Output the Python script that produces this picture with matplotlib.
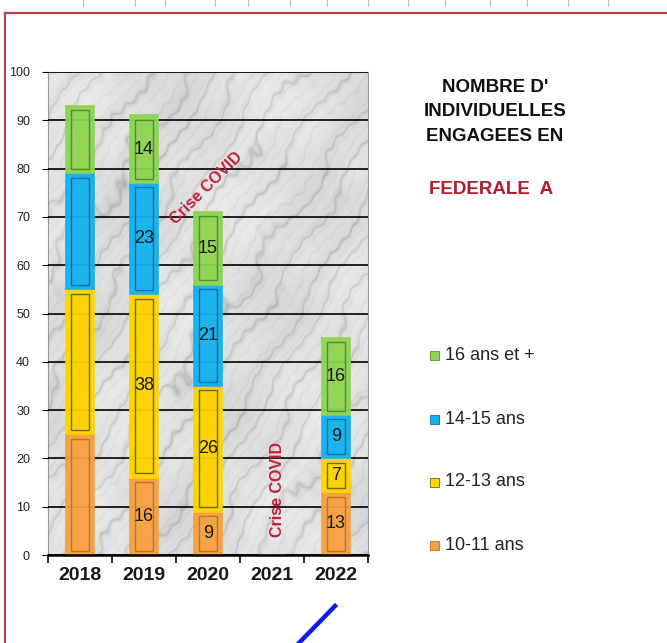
import numpy as np
import matplotlib
matplotlib.use("Agg")
import matplotlib.pyplot as plt
from matplotlib.patches import Rectangle
from matplotlib.lines import Line2D

plt.rcParams["font.family"] = ["Liberation Sans", "DejaVu Sans"]

years = ["2018", "2019", "2020", "2021", "2022"]
age_10_11 = [25, 16, 9, 0, 13]
age_12_13 = [30, 38, 26, 0, 7]
age_14_15 = [24, 23, 21, 0, 9]
age_16_plus = [14, 14, 15, 0, 16]
show_labels = [False, True, True, False, True]
series_names = ["10-11 ans", "12-13 ans", "14-15 ans", "16 ans et +"]
yticks = list(range(0, 101, 10))

colors = ["#F5A040", "#FFD400", "#12B2EE", "#8ED452"]
inner_edges = ["#C8701E", "#7A6600", "#0A6FA8", "#4F8F25"]

fig = plt.figure(figsize=(6.67, 6.43), dpi=100)
fig.patch.set_facecolor("white")

def px(x, y):
    return x / 667.0, 1 - y / 643.0

ax = fig.add_axes([48/667, 1-555/643, 320/667, 483/643])

# marble background texture (procedural, decorative)
H, W = 420, 340
yy, xx = np.mgrid[0:H, 0:W] / 100.0
turb = (0.6*np.sin(3.1*xx + 1.7*yy) + 0.4*np.sin(5.3*yy - 2.9*xx + 1.0)
        + 0.25*np.sin(9.7*xx + 7.1*yy + 2.0) + 0.15*np.sin(17.3*yy + 13.1*xx + 0.5)
        + 0.1*np.sin(31.0*xx - 23.0*yy + 1.3))
phase = 7.0*(xx*1.3 + yy) + 1.6*turb
veins = np.exp(-7*np.abs(np.sin(phase)))
phase2 = 19.0*(xx*1.2 + yy) + 2.5*turb
veins2 = np.exp(-10*np.abs(np.sin(phase2)))
tex = 0.88 + 0.03*turb - 0.14*veins - 0.07*veins2
tex = np.clip(tex, 0, 1)
ax.imshow(tex, extent=(-0.5, 4.5, 0, 100), aspect="auto", cmap="gray",
          vmin=0, vmax=1, zorder=0, interpolation="bilinear")

x = np.arange(len(years))
w = 0.44
iw = 0.27
bottom = np.zeros(len(years))
series = [age_10_11, age_12_13, age_14_15, age_16_plus]
for vals, c, ec in zip(series, colors, inner_edges):
    vals = np.array(vals, dtype=float)
    ax.bar(x, vals, w, bottom=bottom, color=c, edgecolor=c, linewidth=1.2,
           alpha=0.95, zorder=3)
    for i, v in enumerate(vals):
        if v > 0:
            ax.add_patch(Rectangle((x[i] - iw/2, bottom[i] + 0.9), iw, v - 1.8,
                                   fill=False, edgecolor=ec, linewidth=1.0,
                                   zorder=4))
            if show_labels[i]:
                ax.text(x[i], bottom[i] + v/2, f"{int(v)}", ha="center",
                        va="center", fontsize=13, color="#1a1a1a", zorder=5)
    bottom = bottom + vals

ax.set_xlim(-0.5, 4.5)
ax.set_ylim(0, 100)
ax.set_yticks(yticks)
ax.set_yticklabels([str(t) for t in yticks], fontsize=9, color="#222222")
ax.yaxis.grid(True, color="black", linewidth=1.2, zorder=1)
ax.set_axisbelow(False)
for gl in ax.yaxis.get_gridlines():
    gl.set_zorder(1)
ax.tick_params(axis="y", length=4, width=0.8, pad=9)

ax.set_xticks(x)
ax.set_xticklabels(years, fontsize=14, fontweight="bold", color="#1a1a1a")
ax.set_xticks(np.arange(-0.5, 4.6, 1), minor=True)
ax.tick_params(axis="x", which="major", length=0, pad=9)
ax.tick_params(axis="x", which="minor", length=6, width=1.2, direction="out")

for s in ["top", "right", "left"]:
    ax.spines[s].set_color("#999999")
    ax.spines[s].set_linewidth(0.8)
ax.spines["bottom"].set_color("black")
ax.spines["bottom"].set_linewidth(1.8)
ax.spines["bottom"].set_zorder(6)

covid_col = "#C41E3A"
ax.text(1.97, 76, "Crise COVID", rotation=45, ha="center", va="center",
        fontsize=11.5, fontweight="bold", color=covid_col, zorder=6)
ax.text(3.08, 13.5, "Crise COVID", rotation=90, ha="center", va="center",
        fontsize=11.5, fontweight="bold", color=covid_col, zorder=6)

# Title
fig.text(*px(495, 112), "NOMBRE D'\nINDIVIDUELLES\nENGAGEES EN", ha="center",
         va="center", fontsize=13.5, fontweight="bold", color="#111111",
         linespacing=1.55)
fig.text(*px(491, 190), "FEDERALE  A", ha="center", va="center",
         fontsize=13.5, fontweight="bold", color="#B01C2E")

# Legend (manual)
leg_y = [545, 482, 419, 355]
for name, c, ec, y in zip(series_names, colors, inner_edges, leg_y):
    xa, ya = px(430, y + 5)
    fig.patches.append(Rectangle((xa, ya), 9/667, 9/643, facecolor=c,
                                 edgecolor=ec, linewidth=0.6,
                                 transform=fig.transFigure, figure=fig))
    fig.text(*px(445, y), name, ha="left", va="center", fontsize=13,
             color="#222222")

# Spreadsheet frame / decorations
frame_col = "#B5404E"
fig.add_artist(Line2D([5/667, 5/667], [0, 1-13/643], color=frame_col,
                      linewidth=1.6, transform=fig.transFigure))
fig.add_artist(Line2D([5/667, 1], [1-13/643, 1-13/643], color=frame_col,
                      linewidth=1.6, transform=fig.transFigure))
for tx in [83, 135, 165, 215, 248, 290, 327, 368, 408, 445, 490, 527, 568, 608]:
    fig.add_artist(Line2D([tx/667, tx/667], [1-0/643, 1-6/643], color="#bbbbbb",
                          linewidth=0.8, transform=fig.transFigure))
fig.add_artist(Line2D([335/667, 299/667], [1-606/643, 1-643/643], color="#0A1AF0",
                      linewidth=3.2, transform=fig.transFigure))

fig.savefig("out.png", dpi=100)
